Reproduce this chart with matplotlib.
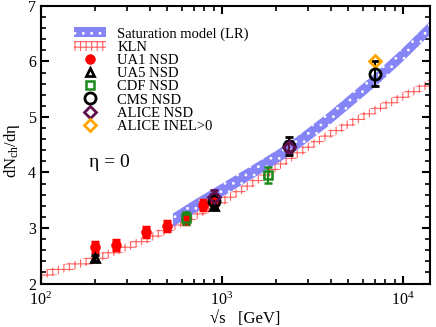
import numpy as np
import matplotlib.pyplot as plt

plt.rcParams['font.family'] = ['Liberation Serif', 'DejaVu Serif']
plt.rcParams['mathtext.fontset'] = 'custom'
plt.rcParams['mathtext.rm'] = 'Liberation Serif'
plt.rcParams['mathtext.it'] = 'Liberation Serif:italic'
plt.rcParams['hatch.linewidth'] = 0.8

# bands: energy [GeV], centre value
sat_e = [536, 692, 1061, 1620, 2360, 3785, 7000, 10000, 14100]
sat_y = [3.14, 3.37, 3.73, 4.09, 4.42, 4.93, 5.66, 6.12, 6.60]
sat_w = 0.12

kln_e = [100, 200, 385, 505, 692, 1061, 1620, 2360, 3785, 6800, 10000, 14100]
kln_y = [2.15, 2.44, 2.80, 2.98, 3.20, 3.52, 3.89, 4.25, 4.66, 5.10, 5.37, 5.60]
kln_w = 0.075

# data points
ua1_e = [200, 260, 380, 500, 630, 790, 900]
ua1_y = [2.65, 2.70, 2.93, 3.04, 3.17, 3.41, 3.48]
ua1_err = [0.09, 0.09, 0.09, 0.09, 0.09, 0.09, 0.09]

ua5_e = [200, 900]
ua5_y = [2.46, 3.40]
ua5_err = [0.06, 0.06]

cdf_e = [630, 1800]
cdf_y = [3.18, 3.95]
cdf_err = [0.1, 0.14]

cms_e = [900, 2360, 7000]
cms_y = [3.48, 4.47, 5.78]
cms_err = [0.13, 0.16, 0.23]

alice_e = [900, 2360]
alice_y = [3.56, 4.46]
alice_err = [0.12, 0.1]

inel_e = [7000]
inel_y = [6.01]

fig = plt.figure(figsize=(4.36, 3.27), dpi=100)
ax = fig.add_axes([0.094, 0.133, 0.892, 0.849])

sat_y = np.array(sat_y)
kln_y = np.array(kln_y)
h_sat = ax.fill_between(sat_e, sat_y - sat_w, sat_y + sat_w, facecolor='#8585f8',
                        edgecolor='white', hatch='..', linewidth=0, zorder=2)
h_kln = ax.fill_between(kln_e, kln_y - kln_w, kln_y + kln_w, facecolor='white',
                        edgecolor='#ff6060', hatch='+++', linewidth=0, zorder=1)

kw = dict(linestyle='none', capsize=3, elinewidth=1.5, capthick=1.5, zorder=3)
h_ua1 = ax.errorbar(ua1_e, ua1_y, yerr=ua1_err, marker=(8, 2, 0), color='red', ms=7, mew=2.5, **kw)
h_ua5 = ax.errorbar(ua5_e, ua5_y, yerr=ua5_err, marker='^', color='black', ms=6, mfc='none', mew=2, **kw)
h_cdf = ax.errorbar(cdf_e, cdf_y, yerr=cdf_err, marker='s', color='#1a8a1a', ms=6, mfc='none', mew=1.8, **kw)
h_cms = ax.errorbar(cms_e, cms_y, yerr=cms_err, marker='o', color='black', ms=8, mfc='none', mew=2, **kw)
h_alice = ax.errorbar(alice_e, alice_y, yerr=alice_err, marker='D', color='#5e0f4e', ms=6.5,
                      mfc='none', mew=2, **kw)
h_inel, = ax.plot(inel_e, inel_y, 'D', color='orange', ms=6.5, mfc='none', mew=2, zorder=3)

ax.set_xscale('log')
ax.set_xlim(100, 14100)
ax.set_ylim(2, 7)
ax.set_yticks([2, 3, 4, 5, 6, 7])
ax.set_yticks(np.arange(2, 7.01, 0.2), minor=True)
ax.tick_params(which='both', direction='in', top=True, right=True, labelsize=11.5)
ax.tick_params(axis='x', pad=6)
ax.tick_params(which='major', length=6, width=1.5)
ax.tick_params(which='minor', length=3.5, width=1.2)
for s in ax.spines.values():
    s.set_linewidth(1.5)

ax.set_xlabel('√s   [GeV]', fontsize=12)
ax.xaxis.set_label_coords(0.524, -0.1)
ax.set_ylabel(r'dN$_{\rm ch}$/dη', fontsize=12)
ax.yaxis.set_label_coords(-0.05, 0.48)
ax.text(0.175, 0.437, 'η = 0', transform=ax.transAxes, fontsize=14, ha='center', va='center')

# legend shows markers only, no error bars
handles = [h_sat, h_kln, h_ua1[0], h_ua5[0], h_cdf[0], h_cms[0], h_alice[0], h_inel]
labels = ['Saturation model (LR)', 'KLN', 'UA1 NSD', 'UA5 NSD', 'CDF NSD', 'CMS NSD',
          'ALICE NSD', 'ALICE INEL>0']
ax.legend(handles, labels, loc='upper left', bbox_to_anchor=(0.065, 0.95), frameon=False,
          fontsize=10.5, labelspacing=0.0, handlelength=2.2, handletextpad=0.8, borderpad=0)

fig.savefig('out.png', dpi=100)
